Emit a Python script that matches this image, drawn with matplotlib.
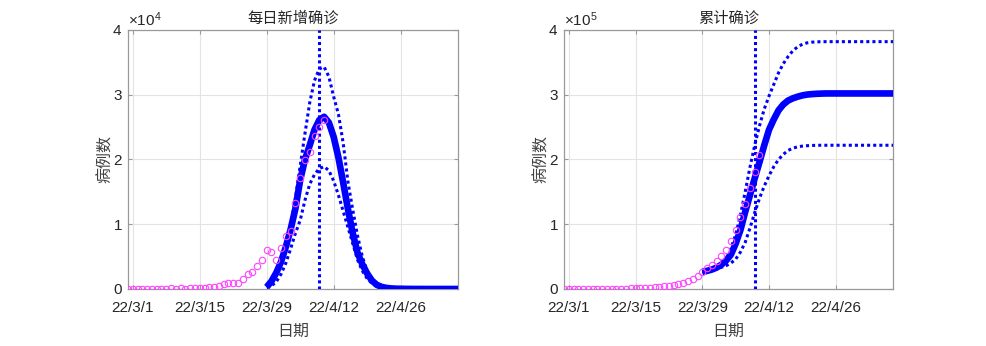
import numpy as np
import matplotlib
matplotlib.use("Agg")
import matplotlib.pyplot as plt
import matplotlib.dates as mdates
from matplotlib.ticker import ScalarFormatter, FixedLocator

# ---------------- data ----------------
obs_start, obs_end = "2022-02-28", "2022-04-11"      # observed dates (end exclusive)
model_start, model_end = "2022-03-29", "2022-05-09"  # model dates (end exclusive)
peak_date = "2022-04-09"

obs_daily = [1, 2, 3, 16, 19, 28, 48, 55, 65, 80, 75, 83, 65, 169, 139, 202, 158,
             260, 374, 509, 758, 896, 981, 983, 1609, 2269, 2676, 3500, 4477,
             5982, 5653, 4502, 6311, 8226, 9006, 13354, 17077, 19982, 21222,
             23624, 24943, 26087]
obs_cum = [1, 3, 6, 22, 41, 69, 117, 172, 237, 317, 392, 475, 540, 709, 848, 1050,
           1208, 1468, 1842, 2351, 3109, 4005, 4986, 5969, 7578, 9847, 12523,
           16023, 20500, 26482, 32135, 36637, 42948, 51174, 60180, 73534, 90611,
           110593, 131815, 155439, 180382, 206469]

mean_daily = [300, 1200, 2500, 4200, 6500, 9200, 12400, 16800, 20000, 22200, 24600,
              26100, 26600, 25700, 23500, 20300, 16400, 12300, 8600, 5600, 3800,
              2400, 1300, 650, 330, 170, 90, 50, 30, 20, 10,
              5, 4, 3, 2, 2, 1, 1, 1, 1, 1]
upper_daily = [300, 1100, 2400, 4300, 6700, 9800, 14000, 19000, 24000, 28800, 32200,
               34000, 34300, 32800, 29700, 27000, 22500, 16500, 12200, 8200, 5000,
               2800, 1500, 800, 400, 200, 100, 50, 30, 20, 10,
               5, 4, 3, 2, 2, 1, 1, 1, 1, 1]
lower_daily = [200, 500, 1100, 2300, 4000, 6200, 8600, 10600, 13700, 16200, 17700,
               18600, 18900, 18300, 16700, 14500, 12000, 9500, 7000, 4500, 2800,
               1600, 900, 500, 250, 130, 60, 30, 15, 10, 5,
               3, 2, 2, 1, 1, 1, 1, 1, 1, 1]

mean_cum = [26500, 28000, 30000, 33000, 37500, 44000, 53000, 70000, 91000, 119000,
            145000, 171000, 196000, 222000, 246000, 262000, 276000, 285000, 291000,
            294500, 297000, 299000, 300300, 301000, 301500, 301800] + [302000] * 15
upper_cum = [26500, 28000, 30500, 34000, 39000, 46000, 62000, 84000, 114000, 150000,
             188000, 222000, 252000, 278000, 298000, 316000, 334000, 348000, 359000,
             368000, 374000, 378000, 380200, 381200, 381700, 381900] + [382000] * 15
lower_cum = [26500, 27500, 29000, 31000, 33500, 36000, 40000, 46000, 57000, 72000,
             94000, 118000, 140000, 159000, 175000, 189000, 200000, 208000, 214000,
             217500, 219500, 220700, 221300, 221700, 221900] + [222000] * 16

xtick_dates = ["2022-03-01", "2022-03-15", "2022-03-29", "2022-04-12", "2022-04-26"]
xtick_labels = ["22/3/1", "22/3/15", "22/3/29", "22/4/12", "22/4/26"]
xlim_dates = ["2022-02-28", "2022-05-08"]

titles = ["每日新增确诊", "累计确诊"]
ylabel = "病例数"
xlabel = "日期"
ymax = [4e4, 4e5]

# ---------------- style ----------------
tick_font, tick_size = "Liberation Sans", 11
cjk = ["Noto Sans CJK SC", "DejaVu Sans"]
plt.rcParams["mathtext.fontset"] = "custom"
plt.rcParams["mathtext.rm"] = "Liberation Sans"
plt.rcParams["mathtext.it"] = "Liberation Sans"

txt = "#262626"
spine_c = "#999999"
blue = "#0000ff"
mag = "#ff44ff"

obs_dates = np.arange(obs_start, obs_end, dtype="datetime64[D]")
model_dates = np.arange(model_start, model_end, dtype="datetime64[D]")

fig = plt.figure(figsize=(9.87, 3.46), dpi=100)
axes = [fig.add_axes([128 / 987, 57 / 346, 330 / 987, 259 / 346]),
        fig.add_axes([564 / 987, 57 / 346, 329 / 987, 259 / 346])]

series = [(obs_daily, mean_daily, upper_daily, lower_daily),
          (obs_cum, mean_cum, upper_cum, lower_cum)]

for ax, (obs, mean, up, lo), title, ym in zip(axes, series, titles, ymax):
    ax.plot(obs_dates, obs, linestyle="none", marker="o", markersize=4.6,
            markerfacecolor="none", markeredgecolor=mag, markeredgewidth=0.8, zorder=5)
    ax.plot(model_dates, mean, color=blue, lw=4.8, solid_capstyle="butt", zorder=4)
    for s in (up, lo):
        ax.plot(model_dates, s, color=blue, lw=2.2, dashes=(1, 1),
                dash_capstyle="butt", zorder=4)
    ax.axvline(np.datetime64(peak_date), color=blue, lw=2.2, dashes=(1, 1),
               dash_capstyle="butt", zorder=4)

    ax.set_xlim(np.datetime64(xlim_dates[0]), np.datetime64(xlim_dates[1]))
    ax.set_ylim(0, ym)
    ax.xaxis.set_major_locator(FixedLocator(mdates.date2num(np.array(xtick_dates, dtype="datetime64[D]"))))
    ax.set_xticklabels(xtick_labels)
    ax.set_yticks(np.linspace(0, ym, 5))
    fmt = ScalarFormatter(useMathText=True)
    fmt.set_powerlimits((0, 0))
    ax.yaxis.set_major_formatter(fmt)
    ot = ax.yaxis.get_offset_text()
    ot.set_fontsize(11)
    ot.set_color(txt)
    ot.set_fontfamily("Liberation Sans")

    ax.grid(True, color="#e3e3e3", lw=0.8)
    ax.set_axisbelow(True)
    for sp in ax.spines.values():
        sp.set_color(spine_c)
        sp.set_linewidth(0.9)
    ax.tick_params(direction="in", length=3, width=0.8, color=spine_c,
                   top=True, right=True, labelcolor=txt, labelsize=tick_size)
    ax.tick_params(axis="x", pad=9)
    ax.tick_params(axis="y", pad=4)
    for lab in ax.get_xticklabels() + ax.get_yticklabels():
        lab.set_fontfamily(tick_font)

    ax.set_title(title, fontsize=11, family=cjk, color=txt, pad=5)
    ax.set_xlabel(xlabel, fontsize=11.5, family=cjk, color="#404040", labelpad=5)
    ax.set_ylabel(ylabel, fontsize=11.5, family=cjk, color="#404040", labelpad=-1)

fig.savefig("out.png", dpi=100)
